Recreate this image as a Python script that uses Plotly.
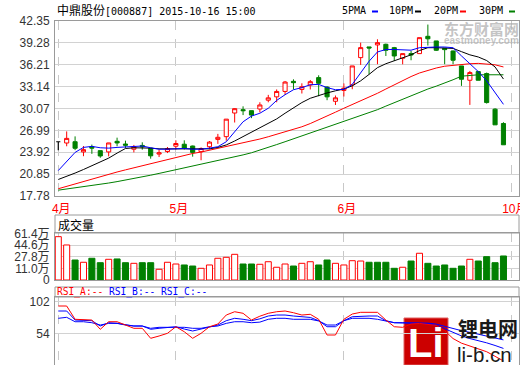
import plotly.graph_objects as go

# ---------------- data ----------------
IDX = list(range(54))
OPEN = [25.40, 25.22, 25.40, 23.97, 24.70, 24.15, 23.97, 25.46, 25.08, 24.35,
        24.88, 24.48, 23.67, 24.02, 24.77, 25.05, 24.80, 24.00, 24.70, 25.73,
        26.11, 29.43, 29.90, 29.76, 29.99, 31.23, 31.70, 32.46, 33.88, 32.74,
        33.36, 34.40, 33.07, 31.08, 32.60, 33.38, 37.21, 38.71, 38.99, 39.08,
        38.61, 37.12, 37.77, 37.77, 40.20, 39.55, 38.52, 38.14, 36.04, 34.03,
        35.25, 34.97, 29.97, 27.96]
HIGH = [25.40, 26.85, 26.15, 24.80, 25.00, 24.15, 25.24, 25.97, 25.55, 24.95,
        25.32, 24.48, 24.28, 24.66, 25.60, 25.60, 24.85, 24.60, 25.50, 26.50,
        28.57, 30.10, 30.37, 29.76, 30.94, 31.98, 32.74, 33.93, 34.16, 33.60,
        34.07, 34.73, 33.20, 31.89, 33.58, 36.04, 39.31, 38.71, 39.78, 39.17,
        38.71, 37.77, 38.14, 40.01, 41.85, 39.55, 38.52, 38.20, 36.04, 35.34,
        35.34, 35.11, 30.11, 28.14]
LOW = [24.20, 24.76, 24.22, 23.37, 23.70, 23.15, 23.34, 24.76, 24.52, 23.90,
       24.28, 23.02, 23.25, 23.81, 24.30, 24.30, 23.30, 22.80, 24.35, 25.10,
       25.54, 28.10, 29.14, 28.71, 29.52, 30.94, 30.94, 31.98, 32.74, 32.17,
       32.74, 31.79, 31.23, 30.56, 31.75, 32.77, 36.18, 34.87, 36.28, 37.44,
       36.74, 36.27, 36.84, 37.77, 38.90, 38.14, 36.28, 36.28, 33.24, 30.57,
       34.03, 30.76, 27.77, 24.97]
CLOSE = [25.40, 25.87, 24.48, 24.29, 24.50, 23.40, 25.23, 25.23, 24.91, 24.70,
         24.68, 23.42, 23.85, 24.43, 25.15, 24.45, 23.90, 24.45, 25.35, 26.02,
         28.57, 30.04, 29.76, 29.14, 30.56, 31.56, 32.46, 33.78, 33.69, 33.12,
         33.83, 33.60, 31.70, 31.56, 32.92, 36.04, 38.61, 38.56, 39.31, 38.24,
         37.44, 37.77, 37.58, 40.01, 39.85, 38.24, 38.33, 36.84, 34.17, 35.11,
         34.03, 30.90, 27.77, 24.97]

MA5 = [21.35, 22.60, 23.90, 24.60, 24.75, 24.55, 24.50, 24.60, 24.70, 24.75,
       24.80, 24.55, 24.35, 24.35, 24.40, 24.45, 24.35, 24.35, 24.50, 24.70,
       25.40, 26.80, 28.20, 29.00, 29.40, 30.10, 31.20, 32.00, 32.70, 33.00,
       33.40, 33.45, 33.00, 32.70, 32.75, 33.45, 35.10, 36.70, 38.00, 38.35,
       38.35, 38.35, 38.25, 38.60, 38.70, 38.70, 38.70, 38.60, 37.45, 36.30,
       35.25, 33.95, 32.30, 30.65]
MA10 = [20.10, 20.50, 21.00, 21.50, 22.00, 22.50, 23.10, 23.80, 24.45, 24.55,
        24.55, 24.50, 24.40, 24.40, 24.40, 24.40, 24.35, 24.35, 24.40, 24.60,
        24.95, 25.50, 26.10, 26.80, 27.40, 27.90, 28.60, 29.40, 30.20, 30.90,
        31.50, 31.90, 32.25, 32.55, 32.80, 33.25, 33.95, 34.85, 35.80, 36.35,
        36.75, 37.20, 37.60, 38.20, 38.60, 38.60, 38.60, 38.50, 38.05, 37.60,
        37.30, 36.80, 35.90, 34.20]
MA20 = [18.80, 19.15, 19.50, 19.85, 20.20, 20.55, 20.85, 21.15, 21.45, 21.75,
        22.05, 22.35, 22.65, 22.95, 23.25, 23.50, 23.75, 23.95, 24.20, 24.45,
        24.70, 24.95, 25.20, 25.45, 25.78, 26.10, 26.45, 26.80, 27.10, 27.50,
        27.95, 28.45, 28.95, 29.55, 30.10, 30.60, 31.15, 31.60, 32.20, 32.80,
        33.40, 34.00, 34.55, 35.05, 35.45, 35.75, 36.00, 36.15, 36.30, 36.35,
        36.40, 36.35, 36.20, 35.90]
MA30 = [18.60, 18.75, 18.90, 19.05, 19.20, 19.40, 19.60, 19.80, 20.00, 20.20,
        20.45, 20.70, 20.95, 21.20, 21.45, 21.70, 21.95, 22.20, 22.45, 22.70,
        22.95, 23.25, 23.55, 23.85, 24.20, 24.60, 25.00, 25.40, 25.80, 26.20,
        26.60, 27.00, 27.40, 27.80, 28.20, 28.60, 29.00, 29.45, 29.90, 30.40,
        30.90, 31.40, 31.90, 32.35, 32.80, 33.20, 33.60, 34.10, 34.60, 34.75,
        34.80, 34.80, 34.80, 34.80]

VOLUME = [56.8, 44.8, 23.1, 19.8, 25.6, 19.2, 24.1, 24.6, 19.2, 18.3,
          19.2, 19.2, 9.7, 19.8, 17.3, 15.9, 14.4, 11.1, 15.9, 25.6,
          27.0, 31.3, 17.3, 17.3, 16.9, 20.6, 12.6, 17.3, 14.4, 18.3,
          20.6, 15.9, 23.1, 18.3, 15.9, 22.1, 21.6, 19.8, 19.8, 19.8,
          11.1, 12.6, 21.6, 32.8, 18.3, 14.4, 15.9, 11.1, 14.4, 24.1,
          21.6, 27.9, 19.2, 28.9]
VOL_UP = [1, 1, 0, 1, 0, 0, 1, 0, 0, 1, 0, 0, 1, 1, 1, 0, 0, 1, 1, 1,
          1, 1, 0, 0, 1, 1, 1, 1, 0, 1, 1, 0, 0, 1, 1, 1, 1, 0, 0, 0,
          0, 1, 0, 1, 0, 0, 0, 0, 0, 1, 0, 0, 0, 0]

RSI_A = [95.5, 95.5, 75.3, 74.2, 74.2, 60.1, 71.6, 71.6, 66.6, 61.6,
         61.6, 46.4, 49.9, 54.0, 64.0, 56.4, 46.4, 54.0, 64.0, 68.1,
         81.8, 86.8, 84.4, 74.2, 80.0, 84.4, 86.8, 87.9, 85.3, 81.8,
         82.9, 75.3, 51.4, 51.4, 75.3, 83.3, 85.9, 85.9, 85.9, 74.2,
         64.0, 63.1, 68.1, 69.0, 68.0, 66.0, 58.0, 46.0, 39.0, 34.5,
         30.5, 26.0, 19.0, 12.0]
RSI_B = [87.9, 87.9, 74.2, 73.2, 73.2, 65.1, 70.1, 69.2, 66.6, 65.1,
         65.1, 60.1, 61.6, 63.1, 64.0, 60.5, 57.5, 60.5, 64.0, 66.6,
         73.2, 76.8, 75.3, 73.2, 76.0, 80.3, 81.8, 81.8, 80.3, 79.2,
         78.1, 73.2, 64.0, 64.0, 73.2, 79.2, 80.3, 80.3, 80.3, 73.2,
         70.1, 70.1, 69.1, 69.0, 68.5, 66.0, 61.0, 55.0, 50.0, 46.0,
         43.0, 39.5, 35.5, 31.0]
RSI_C = [76.8, 78.3, 71.6, 71.6, 70.1, 66.6, 69.1, 69.1, 66.6, 65.1,
         65.1, 61.6, 63.1, 63.1, 64.0, 63.1, 61.6, 61.6, 64.0, 65.1,
         69.1, 71.6, 71.6, 70.1, 71.0, 75.3, 76.8, 76.8, 75.3, 75.3,
         75.3, 72.8, 66.6, 66.6, 73.2, 76.8, 76.8, 76.8, 75.3, 73.2,
         70.1, 70.1, 70.1, 70.0, 69.5, 68.0, 64.5, 61.0, 58.0, 55.5,
         52.5, 50.0, 47.0, 44.0]

MONTH_POS = [0, 14, 34, 54]
MONTH_LABELS = ["4月", "5月", "6月", "10月"]
PRICE_TICKS = [17.78, 20.85, 23.92, 26.99, 30.07, 33.14, 36.21, 39.28, 42.35]
VOL_TICKS = [-5.8, 11.0, 27.8, 44.6, 61.4]
VOL_TICK_TEXT = ["0", "11.0万", "27.8万", "44.6万", "61.4万"]
RSI_TICKS = [0, 54, 102]
TITLE_NAME = "中鼎股份"
TITLE_REST = "[000887] 2015-10-16 15:00"
MA_NAMES = ["5PMA", "10PM", "20PM", "30PM"]

# ---------------- styling ----------------
W, H = 520, 365
RED, GREEN, BLUE, BLACK = "#ff0000", "#008000", "#0000ff", "#000000"
GRID = "#d2d2d2"
BORDER = "#9a9a9a"
SANS = "Liberation Sans, Noto Sans CJK SC, sans-serif"
MONO = "DejaVu Sans Mono, Noto Sans CJK SC, monospace"
CJK = "Noto Sans CJK SC, sans-serif"


def px(x):
    return x / W


def py(y):
    return 1 - y / H


XR = [-0.39, 54.85]
XDOM = [px(55), px(519)]

fig = go.Figure()

# MA lines (drawn first so candles sit above)
for vals, col in [(MA30, GREEN), (MA20, RED), (MA10, BLACK), (MA5, BLUE)]:
    fig.add_trace(go.Scatter(x=IDX, y=vals, mode="lines", xaxis="x", yaxis="y",
                             line=dict(color=col, width=1), hoverinfo="skip"))

# candles
fig.add_trace(go.Candlestick(
    x=IDX[1:], open=OPEN[1:], high=HIGH[1:], low=LOW[1:], close=CLOSE[1:],
    xaxis="x", yaxis="y", whiskerwidth=0,
    increasing=dict(line=dict(color=RED, width=1), fillcolor="#ffffff"),
    decreasing=dict(line=dict(color=GREEN, width=1), fillcolor=GREEN),
    hoverinfo="skip"))
fig.add_trace(go.Candlestick(
    x=IDX[:1], open=OPEN[:1], high=HIGH[:1], low=LOW[:1], close=CLOSE[:1],
    xaxis="x", yaxis="y", whiskerwidth=0,
    increasing=dict(line=dict(color=BLACK, width=1.2), fillcolor=BLACK),
    decreasing=dict(line=dict(color=BLACK, width=1.2), fillcolor=BLACK),
    hoverinfo="skip"))

# volume
fig.add_trace(go.Bar(
    x=IDX, y=[v - VOL_TICKS[0] for v in VOLUME], base=VOL_TICKS[0],
    xaxis="x2", yaxis="y2", width=0.72,
    marker=dict(color=["#ffffff" if u else GREEN for u in VOL_UP],
                line=dict(color=[RED if u else GREEN for u in VOL_UP], width=1)),
    hoverinfo="skip"))

# RSI
for vals, col in [(RSI_C, BLUE), (RSI_B, BLUE), (RSI_A, RED)]:
    fig.add_trace(go.Scatter(x=IDX, y=vals, mode="lines", xaxis="x3", yaxis="y3",
                             line=dict(color=col, width=1), hoverinfo="skip"))

xcommon = dict(range=XR, domain=XDOM, tickvals=MONTH_POS, showgrid=True,
               gridcolor="#c8c8c8", griddash="dash", gridwidth=1, zeroline=False,
               showline=True, mirror=True, linecolor=BORDER, linewidth=1, ticks="",
               fixedrange=True, automargin=False)
ycommon = dict(tickfont=dict(family=SANS, size=12, color="#333333"),
               showgrid=True, gridcolor=GRID, zeroline=False, showline=True,
               mirror=True, linecolor=BORDER, ticks="", ticklabelstandoff=2,
               fixedrange=True, automargin=False)

fig.update_layout(
    width=W, height=H, margin=dict(l=0, r=0, t=0, b=0, autoexpand=False),
    paper_bgcolor="#ffffff", plot_bgcolor="rgba(0,0,0,0)",
    showlegend=False,
    xaxis=dict(xcommon, anchor="y", ticktext=MONTH_LABELS, showticklabels=True,
               tickfont=dict(family=SANS, size=12, color=RED),
               ticklabelstandoff=2, ticklabelshift=3, ticklabeloverflow="allow",
               rangeslider=dict(visible=False)),
    xaxis2=dict(xcommon, anchor="y2", showticklabels=False),
    xaxis3=dict(xcommon, anchor="y3", showticklabels=False),
    yaxis=dict(ycommon, domain=[py(196), py(21)],
               range=[PRICE_TICKS[0], PRICE_TICKS[-1]],
               tickvals=PRICE_TICKS, ticktext=["%.2f" % t for t in PRICE_TICKS],
               anchor="x"),
    yaxis2=dict(ycommon, domain=[py(280), py(233)], range=[VOL_TICKS[0], 62.1],
                tickvals=VOL_TICKS, ticktext=VOL_TICK_TEXT, anchor="x2"),
    yaxis3=dict(ycommon, domain=[0, py(297)], range=[5.8, 109.2],
                tickvals=RSI_TICKS, ticktext=[str(t) for t in RSI_TICKS],
                anchor="x3"),
)

shapes = []
# panel header boxes
for y0, y1 in [(215, 233), (287, 297)]:
    shapes.append(dict(type="rect", xref="paper", yref="paper",
                       x0=px(55), x1=px(519), y0=py(y1), y1=py(y0),
                       line=dict(color=BORDER, width=1)))
# legend dashes
for x0, col in [(372, BLUE), (415, BLACK), (460, RED), (509, GREEN)]:
    shapes.append(dict(type="line", xref="paper", yref="paper",
                       x0=px(x0), x1=px(x0 + 6), y0=py(11.5), y1=py(11.5),
                       line=dict(color=col, width=2)))
# li-b.cn watermark box
shapes.append(dict(type="rect", xref="paper", yref="paper", layer="below",
                   x0=px(404), x1=px(448), y0=py(365), y1=py(318),
                   fillcolor="#cc0000", line=dict(color="#e06060", width=1)))

annotations = [
    dict(text='<span style="font-size:12px">' + TITLE_NAME + '</span>' + TITLE_REST,
         x=px(55), y=py(10), xref="paper", yref="paper", xanchor="left",
         yanchor="middle", showarrow=False,
         font=dict(family=MONO, size=10, color="#000000")),
    dict(text="成交量", x=px(56), y=py(224), xref="paper", yref="paper",
         xanchor="left", yanchor="middle", showarrow=False,
         font=dict(family=CJK, size=12, color="#000000")),
    dict(text='<span style="color:#ff0000">RSI_A:--</span> '
              '<span style="color:#0000ff">RSI_B:--</span> '
              '<span style="color:#0000ff">RSI_C:--</span>',
         x=px(55), y=py(292), xref="paper", yref="paper", xanchor="left",
         yanchor="middle", showarrow=False,
         font=dict(family=MONO, size=9.6, color="#0000ff")),
    # eastmoney watermark
    dict(text="<b>东方财富网</b>", x=px(521), y=py(28), xref="paper", yref="paper",
         xanchor="right", yanchor="middle", showarrow=False,
         font=dict(family=CJK, size=15, color="rgba(170,170,170,0.7)")),
    dict(text="<b>eastmoney.com</b>", x=px(521), y=py(40.5), xref="paper", yref="paper",
         xanchor="right", yanchor="middle", showarrow=False,
         font=dict(family=SANS, size=10, color="rgba(170,170,170,0.7)")),
    dict(text="<b>Li</b>", x=px(426), y=py(343), xref="paper", yref="paper",
         xanchor="center", yanchor="middle", showarrow=False,
         font=dict(family=SANS, size=40, color="#ffffff")),
    dict(text="<b>锂电网</b>", x=px(456), y=py(328.5), xref="paper", yref="paper",
         xanchor="left", yanchor="middle", showarrow=False,
         font=dict(family=CJK, size=20, color="#1a1a1a")),
    dict(text="li-b.cn", x=px(455), y=py(354), xref="paper", yref="paper",
         xanchor="left", yanchor="middle", showarrow=False,
         font=dict(family=SANS, size=20.5, color="#1a1a1a")),
]
for name, x in zip(MA_NAMES, [340, 387, 432, 477]):
    annotations.append(dict(text=name, x=px(x), y=py(10.5), xref="paper", yref="paper",
                            xanchor="left", yanchor="middle", showarrow=False,
                            font=dict(family=MONO, size=10, color="#000000")))

fig.update_layout(shapes=shapes, annotations=annotations)
fig.write_html("out.html",
               config={"displayModeBar": False, "staticPlot": True},
               post_script="document.body.style.margin='0px';"
                           "document.body.style.overflow='hidden';")
